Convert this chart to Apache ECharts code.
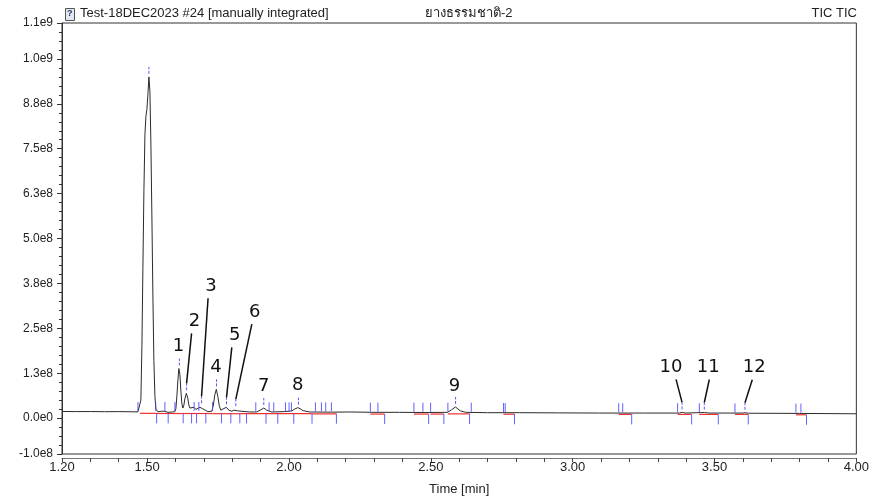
<!DOCTYPE html>
<html>
<head>
<meta charset="utf-8">
<script src="https://cdn.jsdelivr.net/npm/echarts@6/dist/echarts.min.js"></script>
<style>
html,body{margin:0;padding:0;background:#fff;}
#chart{width:872px;height:502px;}
</style>
</head>
<body>
<div id="chart"></div>
<script>
// ---- data ----
const retentionTime = [
  1.200,1.250,1.300,1.350,1.400,1.440,1.4676,1.4746,1.478,1.4817,1.4852,1.4887,1.4923,1.4958,1.4993,
  1.5028,1.5063,1.5099,1.5134,1.5169,1.5204,1.5239,1.5275,1.531,1.538,1.550,1.5556,1.562,1.573,1.590,
  1.598,1.6014,1.605,1.6085,1.612,1.6155,1.619,1.6225,1.626,1.6296,1.633,1.6384,1.6437,1.647,1.6507,
  1.6577,1.665,1.672,1.679,1.686,1.6912,1.696,1.700,1.714,1.7282,1.7335,1.7387,1.744,1.7493,1.7546,
  1.7599,1.767,1.7792,1.788,1.7986,1.806,1.8127,1.820,1.8268,1.862,1.8866,1.9007,1.9113,1.9218,1.9394,
  1.985,2.0099,2.020,2.031,2.040,2.0486,2.0732,2.150,2.214,2.300,2.390,2.480,2.559,2.573,2.587,
  2.596,2.6049,2.6225,2.700,2.8127,2.950,3.094,3.250,3.376,3.3866,3.397,3.464,3.480,3.600,3.608,
  3.620,3.7986,3.900,4.000
];
const ticIntensity = [
  1.85e7,1.80e7,1.82e7,1.78e7,1.80e7,1.76e7,1.72e7,1.9e7,5e7,2.0e8,4.2e8,6.3e8,7.9e8,8.4e8,8.6e8,
  9.0e8,9.5e8,9.1e8,7.6e8,5.6e8,3.4e8,1.6e8,6.0e7,2.5e7,1.75e7,1.9e7,2.3e7,1.9e7,1.6e7,1.7e7,
  1.8e7,2.6e7,6.2e7,1.05e8,1.38e8,1.22e8,7.6e7,4.0e7,2.8e7,3.6e7,5.3e7,6.9e7,5.4e7,3.7e7,2.8e7,
  2.5e7,3.0e7,2.4e7,2.6e7,3.0e7,3.3e7,2.6e7,2.1e7,1.8e7,1.9e7,3.6e7,6.5e7,8.0e7,6.0e7,3.3e7,
  2.2e7,2.5e7,3.0e7,2.2e7,1.9e7,2.2e7,2.5e7,2.0e7,1.8e7,1.7e7,1.7e7,2.3e7,2.8e7,2.2e7,1.7e7,
  1.8e7,2.0e7,2.5e7,2.9e7,2.6e7,2.1e7,1.7e7,1.65e7,1.7e7,1.6e7,1.6e7,1.55e7,1.6e7,2.3e7,3.1e7,
  2.5e7,2.0e7,1.6e7,1.5e7,1.5e7,1.45e7,1.4e7,1.4e7,1.4e7,1.6e7,1.4e7,1.55e7,1.4e7,1.4e7,1.5e7,
  1.35e7,1.3e7,1.25e7,1.2e7
];

// integration baselines (start, end, level)
const baseStart = [1.4746,1.531,1.626,1.73,1.83,1.95,2.08,2.287,2.4405,2.499,2.56,2.756,3.162,3.37,3.446,3.572,3.787];
const baseEnd   = [1.531,1.626,1.73,1.83,1.95,2.08,2.167,2.337,2.492,2.546,2.637,2.795,3.208,3.419,3.513,3.619,3.824];
const baseLevel = [1.6e7,1.55e7,1.55e7,1.5e7,1.5e7,1.5e7,1.45e7,1.4e7,1.4e7,1.4e7,1.45e7,1.35e7,1.3e7,1.3e7,1.3e7,1.3e7,1.2e7];

// peak delimiter marks (time, level)
const markUpTime = [1.4676,1.5303,1.5627,1.5979,1.6658,1.6824,1.7306,1.8831,1.93,1.9465,1.9877,2.0004,2.0088,2.0933,2.1144,2.1296,2.1496,2.287,2.3137,2.4405,2.4722,2.4993,2.5602,2.6426,2.7563,2.7623,3.1623,3.1764,3.370,3.4465,3.5722,3.787,3.8046];
const markUpLevel = [1.7e7,1.7e7,1.7e7,1.7e7,1.7e7,1.7e7,1.7e7,1.6e7,1.6e7,1.6e7,1.6e7,1.6e7,1.6e7,1.6e7,1.6e7,1.6e7,1.6e7,1.5e7,1.5e7,1.5e7,1.5e7,1.5e7,1.5e7,1.5e7,1.4e7,1.4e7,1.35e7,1.35e7,1.35e7,1.35e7,1.3e7,1.25e7,1.25e7];
const markDownTime = [1.5335,1.5743,1.6271,1.6567,1.6743,1.707,1.7623,1.7951,1.8268,1.8504,1.919,1.9606,2.0169,2.0813,2.1673,2.3373,2.4923,2.5461,2.6366,2.795,3.2081,3.4194,3.5134,3.619,3.8243];
const markDownLevel = [1.6e7,1.6e7,1.6e7,1.6e7,1.6e7,1.6e7,1.6e7,1.6e7,1.6e7,1.6e7,1.5e7,1.5e7,1.5e7,1.5e7,1.5e7,1.4e7,1.4e7,1.4e7,1.4e7,1.35e7,1.3e7,1.3e7,1.3e7,1.3e7,1.2e7];

// peak apexes
const apexTime  = [1.5063,1.6137,1.6391,1.6919,1.7447,1.7799,1.8127,1.9113,2.0335,2.5873,3.3856,3.4641,3.6074];
const apexValue = [9.5e8,1.38e8,6.9e7,3.3e7,8.0e7,3.0e7,2.5e7,2.8e7,2.9e7,3.1e7,1.6e7,1.55e7,1.5e7];
const peakNumber = ['', '1','2','3','4','5','6','7','8','9','10','11','12'];

// axis ticks / labels
const xTickValues = [1.2,1.3,1.4,1.5,1.6,1.7,1.8,1.9,2.0,2.1,2.2,2.3,2.4,2.5,2.6,2.7,2.8,2.9,3.0,3.1,3.2,3.3,3.4,3.5,3.6,3.7,3.8,3.9,4.0];
const xLabelValues = [1.2,1.5,2.0,2.5,3.0,3.5,4.0];
const yLabelValues = [-1e8,0,1.25e8,2.5e8,3.75e8,5e8,6.25e8,7.5e8,8.75e8,1e9,1.1e9];
const yMinorValues = [-7.5e7,-5e7,-2.5e7,2.5e7,5e7,7.5e7,1e8,1.5e8,1.75e8,2e8,2.25e8,2.75e8,3e8,3.25e8,3.5e8,4e8,4.25e8,4.5e8,4.75e8,5.25e8,5.5e8,5.75e8,6e8,6.5e8,6.75e8,7e8,7.25e8,7.75e8,8e8,8.25e8,8.5e8,9e8,9.25e8,9.5e8,9.75e8,1.025e9,1.05e9,1.075e9];

const titleLeft = 'Test-18DEC2023 #24 [manually integrated]';
const titleMid = 'ยางธรรมชาติ-2';
const titleRight = 'TIC TIC';

// ---- label layout (pixel offsets of number text from apex; leader line start dx) ----
const labelLayout = [
  null,
  {dx:-1, dy:-22},
  {dx:8, dy:-72, line:-3},
  {dx:9.5, dy:-120, line:-3},
  {dx:-0.5, dy:-22},
  {dx:8.3, dy:-72, line:-3},
  {dx:19, dy:-97, line:-3},
  {dx:0, dy:-22},
  {dx:-0.7, dy:-22},
  {dx:-1, dy:-21},
  {dx:-11, dy:-45, line:5},
  {dx:4, dy:-45, line:1},
  {dx:9.3, dy:-45, line:-2}
];

const FONT = "'Liberation Sans', Arial, sans-serif";
const NARROW = "'Liberation Sans Narrow', 'Arial Narrow', 'Liberation Sans', sans-serif";
const BLUE = '#4646ff';

function sci(v){
  return v.toExponential(1).replace('+','');
}

const chart = echarts.init(document.getElementById('chart'), null, {renderer:'canvas'});

const option = {
  animation: false,
  backgroundColor: '#ffffff',
  grid: {left:62, right:15, top:23, bottom:48, show:true, borderColor:'#333', borderWidth:1, backgroundColor:'transparent'},
  xAxis: {
    type:'value', min:1.2, max:4.0, offset:4,
    axisLine:{show:true, onZero:false, lineStyle:{color:'#777', width:1}},
    axisTick:{show:true, customValues:xTickValues, length:4, lineStyle:{color:'#444'}},
    axisLabel:{customValues:xLabelValues, formatter:v=>v.toFixed(2), color:'#222', fontFamily:NARROW, fontSize:13, margin:3},
    splitLine:{show:false},
    name:'Time [min]', nameLocation:'middle', nameGap:25,
    nameTextStyle:{color:'#222', fontFamily:NARROW, fontSize:13}
  },
  yAxis: [{
    type:'value', min:-1e8, max:1.1e9, position:'left',
    axisLine:{show:true, onZero:false, lineStyle:{color:'#333'}},
    axisTick:{show:true, inside:false, customValues:yLabelValues, length:5, lineStyle:{color:'#333'}},
    axisLabel:{customValues:yLabelValues, formatter:sci, color:'#222', fontFamily:FONT, fontSize:12, margin:9},
    splitLine:{show:false}
  },{
    type:'value', min:-1e8, max:1.1e9, position:'left',
    axisLine:{show:false, onZero:false},
    axisTick:{show:true, inside:false, customValues:yMinorValues, length:3, lineStyle:{color:'#333'}},
    axisLabel:{show:false},
    splitLine:{show:false}
  }],
  graphic: [
    {type:'rect', left:65, top:8, shape:{width:9, height:12}, style:{fill:'#dfe8f3', stroke:'#555', lineWidth:1}},
    {type:'text', left:67, top:9, style:{text:'?', fill:'#335', font:'bold 9px '+FONT}},
    {type:'text', left:80, top:7, style:{text:titleLeft, fill:'#222', font:'13px '+FONT}},
    {type:'text', left:425, top:7, style:{text:titleMid, fill:'#222', font:"13px 'Liberation Sans', 'DejaVu Sans', 'Noto Sans', sans-serif"}},
    {type:'text', right:15, top:7, style:{text:titleRight, fill:'#222', font:'13px '+FONT}}
  ],
  series: [
    {
      type:'custom', name:'baseline', coordinateSystem:'cartesian2d',
      data: baseStart.map((s,i)=>[s, baseEnd[i], baseLevel[i]]),
      encode:{x:[0,1], y:2},
      renderItem:(params, api)=>{
        const a = api.coord([api.value(0), api.value(2)]);
        const b = api.coord([api.value(1), api.value(2)]);
        return {type:'line', shape:{x1:a[0], y1:a[1]+1, x2:b[0], y2:b[1]+1}, style:{stroke:'#f03030', lineWidth:1.2}};
      },
      z:2
    },
    {
      type:'line', name:'TIC', data: retentionTime.map((t,i)=>[t, ticIntensity[i]]),
      showSymbol:false, symbol:'none',
      lineStyle:{color:'#2b2b2b', width:1}, z:3
    },
    {
      type:'custom', name:'upMarks', coordinateSystem:'cartesian2d',
      data: markUpTime.map((t,i)=>[t, markUpLevel[i]]),
      renderItem:(params, api)=>{
        const p = api.coord([api.value(0), api.value(1)]);
        return {type:'line', shape:{x1:p[0], y1:p[1]-1, x2:p[0], y2:p[1]-10}, style:{stroke:BLUE, lineWidth:1, opacity:0.85}};
      },
      z:4
    },
    {
      type:'custom', name:'downMarks', coordinateSystem:'cartesian2d',
      data: markDownTime.map((t,i)=>[t, markDownLevel[i]]),
      renderItem:(params, api)=>{
        const p = api.coord([api.value(0), api.value(1)]);
        return {type:'line', shape:{x1:p[0], y1:p[1]+1, x2:p[0], y2:p[1]+11}, style:{stroke:BLUE, lineWidth:1, opacity:0.85}};
      },
      z:4
    },
    {
      type:'custom', name:'apexMarks', coordinateSystem:'cartesian2d',
      data: apexTime.map((t,i)=>[t, apexValue[i]]),
      renderItem:(params, api)=>{
        const p = api.coord([api.value(0), api.value(1)]);
        return {type:'line', shape:{x1:p[0], y1:p[1]-3, x2:p[0], y2:p[1]-10}, style:{stroke:BLUE, lineWidth:1, lineDash:[3,1.5], opacity:0.9}};
      },
      z:4
    },
    {
      type:'custom', name:'peakLabels', coordinateSystem:'cartesian2d',
      data: apexTime.map((t,i)=>[t, apexValue[i], i]),
      renderItem:(params, api)=>{
        const i = api.value(2);
        const lay = labelLayout[i];
        if(!lay) return null;
        const p = api.coord([api.value(0), api.value(1)]);
        const cx = p[0]+lay.dx, cy = p[1]+lay.dy;
        const children = [{
          type:'text', style:{text:peakNumber[i], x:cx, y:cy, align:'center', verticalAlign:'middle', fill:'#111', font:"18px 'DejaVu Sans', sans-serif"}
        }];
        if(lay.line !== undefined){
          children.push({type:'line', shape:{x1:cx+lay.line, y1:cy+12, x2:p[0], y2:p[1]-10}, style:{stroke:'#111', lineWidth:1.5}});
        }
        return {type:'group', children};
      },
      z:5
    }
  ]
};
chart.setOption(option);
</script>
</body>
</html>
